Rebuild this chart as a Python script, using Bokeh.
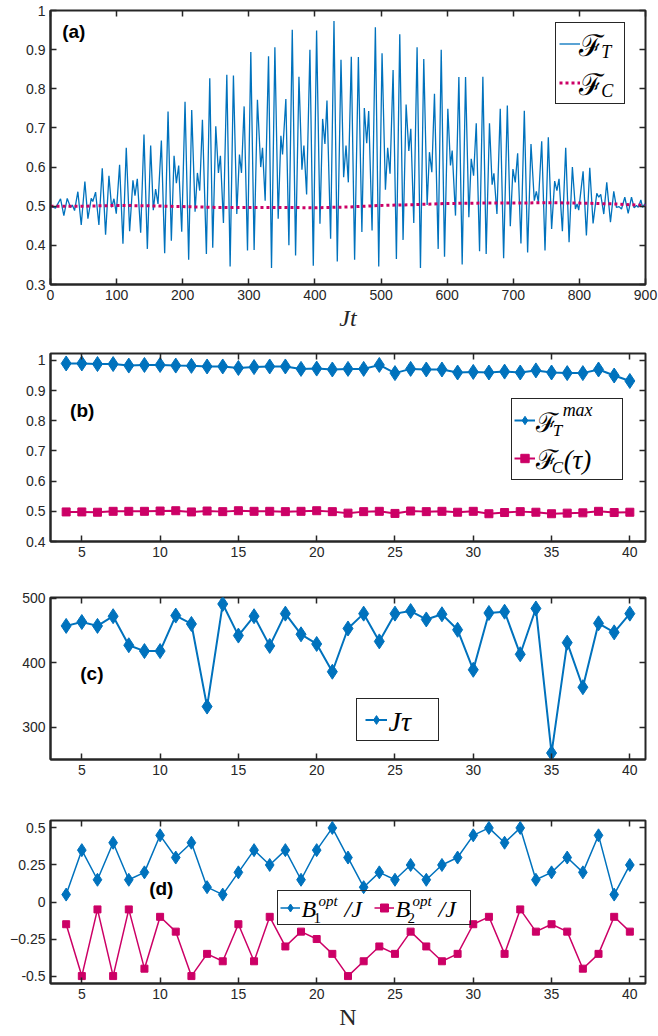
from bokeh.plotting import figure
from bokeh.models import (Range1d, FixedTicker, LinearAxis, Label, Legend, LegendItem,
                          CustomJSTickFormatter)
from bokeh.layouts import column
from bokeh.embed import file_html
from bokeh.resources import INLINE

BLUE = "#0072BD"
PINK = "#CC0066"
DARK = "#262626"

# ---------------- panel (a) data: extrema of F_T ----------------
ft_time = [
    0, 7.6, 15.2, 20.2, 25.3, 30.3, 33, 36.4, 41.4, 46.5,
    52, 56.6, 61.6, 64, 68.2, 73.2, 78.3, 83.3, 88.4, 92.4,
    96, 99.5, 104.5, 109.6, 114.6, 119.7, 124.7, 127.8, 131.3, 136.4,
    141.4, 146.5, 151.5, 155.5, 159, 162.6, 167.7, 172.7, 177.8, 182.8,
    186.9, 190.4, 193.9, 198.5, 203.5, 209, 213.6, 218.7, 222.2, 225.7,
    229.8, 235.8, 240.9, 245.4, 250, 254, 257, 261.6, 266.7, 271.7,
    276.7, 281.8, 285.8, 288.9, 292.9, 298, 303, 308, 313, 318,
    320.7, 324.7, 329.8, 334.3, 339.4, 344.4, 348.5, 351, 356, 360.6,
    365.7, 370.7, 375.8, 380.3, 383.3, 387.4, 392.4, 397.5, 402.5, 407.6,
    411.6, 415.1, 418.2, 423.7, 428.8, 433.8, 439.4, 443.4, 447, 450.5,
    455, 460, 465.7, 471, 474.7, 478.3, 481.3, 486.4, 491.4, 496.5,
    501.5, 506.6, 510, 513.6, 518.2, 523.2, 528.3, 533.3, 537.9, 542,
    545, 549.5, 554.5, 559.6, 564.6, 569.7, 573.2, 576.8, 580.8, 586.4,
    591, 596, 601, 605, 607.6, 612.6, 617.7, 622.7, 627.8, 632.8,
    636.4, 640, 644, 649, 654, 659, 664, 668, 670.7, 675.3,
    680.3, 685.4, 691, 695.5, 699.5, 703, 706.6, 711.6, 716.7, 721.7,
    726.8, 731.8, 734.9, 738, 743, 748, 753, 758, 762.6, 766,
    769.2, 774.3, 779.3, 784.4, 789.4, 794, 796.5, 799, 805.6, 810.6,
    815.7, 820.7, 826.3, 829.3, 832.3, 836.9, 841.4, 847, 852, 856,
    860, 863.7, 868.7, 873.8, 878.8, 882.8, 886.4, 889, 893, 895.5,
    899, 900,
]
ft_value = [
    0.50, 0.495, 0.519, 0.476, 0.520, 0.497, 0.503, 0.489, 0.537, 0.452,
    0.563, 0.468, 0.520, 0.512, 0.536, 0.452, 0.597, 0.427, 0.578, 0.497,
    0.519, 0.481, 0.606, 0.404, 0.649, 0.436, 0.566, 0.527, 0.570, 0.432,
    0.683, 0.391, 0.655, 0.490, 0.544, 0.506, 0.668, 0.380, 0.742, 0.412,
    0.629, 0.559, 0.604, 0.435, 0.767, 0.363, 0.746, 0.486, 0.585, 0.540,
    0.721, 0.378, 0.827, 0.394, 0.704, 0.585, 0.629, 0.457, 0.836, 0.346,
    0.834, 0.480, 0.632, 0.585, 0.755, 0.387, 0.894, 0.388, 0.772, 0.600,
    0.649, 0.514, 0.883, 0.342, 0.906, 0.468, 0.680, 0.632, 0.774, 0.400,
    0.951, 0.374, 0.831, 0.593, 0.655, 0.530, 0.900, 0.348, 0.949, 0.455,
    0.723, 0.659, 0.770, 0.417, 0.973, 0.359, 0.874, 0.574, 0.655, 0.561,
    0.882, 0.363, 0.881, 0.434, 0.751, 0.661, 0.743, 0.438, 0.957, 0.346,
    0.891, 0.542, 0.649, 0.583, 0.848, 0.365, 0.939, 0.414, 0.760, 0.641,
    0.698, 0.457, 0.906, 0.342, 0.876, 0.503, 0.638, 0.587, 0.787, 0.391,
    0.900, 0.371, 0.749, 0.604, 0.642, 0.476, 0.830, 0.351, 0.830, 0.472,
    0.621, 0.578, 0.712, 0.385, 0.831, 0.378, 0.712, 0.555, 0.584, 0.480,
    0.749, 0.367, 0.757, 0.449, 0.595, 0.561, 0.635, 0.405, 0.744, 0.382,
    0.659, 0.514, 0.538, 0.510, 0.666, 0.387, 0.676, 0.442, 0.564, 0.540,
    0.570, 0.436, 0.649, 0.408, 0.600, 0.493, 0.506, 0.490, 0.589, 0.425,
    0.598, 0.456, 0.533, 0.523, 0.530, 0.480, 0.561, 0.459, 0.538, 0.497,
    0.499, 0.493, 0.523, 0.482, 0.523, 0.496, 0.502, 0.497, 0.516, 0.497,
    0.506, 0.500,
]
fc_time = [0, 50, 100, 150, 200, 250, 300, 350, 400, 450, 500, 550, 600, 650, 700, 750, 800, 850, 900]
fc_value = [0.500, 0.500, 0.502, 0.501, 0.499, 0.497, 0.497, 0.497, 0.496, 0.498,
            0.502, 0.504, 0.507, 0.508, 0.508, 0.509, 0.508, 0.506, 0.502]

# ---------------- panels (b)-(d) data ----------------
N = list(range(4, 41))
ft_max = [0.990, 0.990, 0.988, 0.988, 0.983, 0.985, 0.985, 0.983, 0.982, 0.980,
          0.980, 0.975, 0.978, 0.980, 0.980, 0.972, 0.973, 0.970, 0.972, 0.972,
          0.985, 0.958, 0.972, 0.970, 0.970, 0.960, 0.962, 0.960, 0.963, 0.960,
          0.967, 0.960, 0.958, 0.958, 0.970, 0.950, 0.932]
fc_tau = [0.498, 0.498, 0.497, 0.500, 0.500, 0.500, 0.501, 0.502, 0.498, 0.501,
          0.499, 0.502, 0.500, 0.500, 0.499, 0.500, 0.502, 0.499, 0.494, 0.499,
          0.500, 0.493, 0.501, 0.499, 0.500, 0.497, 0.500, 0.492, 0.496, 0.499,
          0.497, 0.492, 0.494, 0.495, 0.500, 0.496, 0.497]
jt_tau = [457, 463, 457, 472, 427, 418, 418, 473, 460, 332,
          491, 442, 472, 426, 476, 444, 429, 386, 453, 476,
          433, 476, 480, 467, 475, 451, 389, 477, 479, 413,
          484, 260, 431, 362, 461, 447, 476]
b1_opt = [0.05, 0.35, 0.15, 0.40, 0.15, 0.20, 0.45, 0.30, 0.40, 0.10,
          0.05, 0.20, 0.35, 0.25, 0.35, 0.15, 0.35, 0.50, 0.30, 0.10,
          0.20, 0.15, 0.25, 0.15, 0.25, 0.30, 0.45, 0.50, 0.40, 0.50,
          0.15, 0.20, 0.30, 0.20, 0.45, 0.05, 0.25]
b2_opt = [-0.15, -0.50, -0.05, -0.50, -0.05, -0.45, -0.10, -0.20, -0.50, -0.35,
          -0.40, -0.15, -0.40, -0.10, -0.30, -0.20, -0.25, -0.35, -0.50, -0.40,
          -0.30, -0.35, -0.20, -0.30, -0.40, -0.35, -0.15, -0.10, -0.35, -0.05,
          -0.20, -0.15, -0.20, -0.45, -0.35, -0.10, -0.20]

xticks_a = [0, 100, 200, 300, 400, 500, 600, 700, 800, 900]
yticks_a = [0.3, 0.4, 0.5, 0.6, 0.7, 0.8, 0.9, 1.0]
xticks_n = [5, 10, 15, 20, 25, 30, 35, 40]
yticks_b = [0.4, 0.5, 0.6, 0.7, 0.8, 0.9, 1.0]
yticks_c = [300, 400, 500]
yticks_d = [-0.5, -0.25, 0, 0.25, 0.5]

FW = 595
SERIF = "Liberation Serif"
SCRIPT = "DejaVu Serif"


def style_axis(ax, ticks, hidden=False):
    ax.ticker = FixedTicker(ticks=ticks)
    ax.major_tick_in = 6
    ax.major_tick_out = 0
    ax.minor_tick_line_color = None
    ax.major_tick_line_color = DARK
    ax.major_tick_line_width = 1.5
    if hidden:
        ax.axis_line_color = None
        ax.formatter = CustomJSTickFormatter(code="return ''")
        ax.major_label_standoff = 0
    else:
        ax.axis_line_color = DARK
        ax.axis_line_width = 2
        ax.major_label_text_font = "Liberation Sans"
        ax.major_label_text_font_size = "14px"
        ax.major_label_text_color = DARK
        ax.major_label_standoff = 5


def make_fig(xr, yr, fh, top, bottom, xticks, yticks, yover=None):
    p = figure(frame_width=FW, frame_height=fh,
               x_range=Range1d(*xr), y_range=Range1d(*yr),
               min_border_left=50, min_border_right=13,
               min_border_top=top, min_border_bottom=bottom,
               toolbar_location=None, output_backend="svg",
               background_fill_color="white", border_fill_color="white")
    p.xgrid.visible = False
    p.ygrid.visible = False
    p.outline_line_color = DARK
    p.outline_line_width = 2
    p.outline_line_alpha = 1
    bx = p.below[0]
    ly = p.left[0]
    style_axis(bx, xticks)
    style_axis(ly, yticks)
    if yover:
        ly.major_label_overrides = yover
    ra = LinearAxis()
    style_axis(ra, yticks, hidden=True)
    p.add_layout(ra, "right")
    ta = LinearAxis()
    style_axis(ta, xticks, hidden=True)
    p.add_layout(ta, "above")
    return p, bx


def to_data(xr, yr, fh, px, py_from_bottom):
    x = xr[0] + px / FW * (xr[1] - xr[0])
    y = yr[0] + py_from_bottom / fh * (yr[1] - yr[0])
    return x, y


def add_legend(p, xr, yr, fh, box, items, texts, horizontal=False,
               pad=3, glyph_w=22, spacing=0):
    bx0, bx1, by0, by1 = box
    vx = (bx0 - xr[0]) / (xr[1] - xr[0]) * FW
    vy = (by0 - yr[0]) / (yr[1] - yr[0]) * fh
    bw = (bx1 - bx0) / (xr[1] - xr[0]) * FW
    bh = (by1 - by0) / (yr[1] - yr[0]) * fh
    n = len(items)
    if horizontal:
        gh = bh - 2 * pad
        lw = (bw - 2 * pad) / n - glyph_w
    else:
        gh = (bh - 2 * pad - (n - 1) * spacing) / n
        lw = bw - 2 * pad - glyph_w
    leg = Legend(items=[LegendItem(label=" ", renderers=r) for r in items],
                 location=(vx, vy), orientation="horizontal" if horizontal else "vertical",
                 padding=pad, spacing=spacing, margin=0, glyph_width=glyph_w,
                 glyph_height=int(round(gh)), label_width=int(round(lw)), label_standoff=0,
                 label_height=10, label_text_font_size="12px",
                 border_line_color=DARK, border_line_width=1, border_line_alpha=1,
                 background_fill_color="white", background_fill_alpha=0)
    p.add_layout(leg)
    for i, pieces in enumerate(texts):
        if horizontal:
            base_x = pad + i * (glyph_w + lw) + glyph_w
            cy = pad + gh / 2
        else:
            base_x = pad + glyph_w
            cy = pad + i * (gh + spacing) + gh / 2
        for (dx, dy, txt, size, font, fstyle) in pieces:
            x, y = to_data(xr, yr, fh, vx + base_x + dx, vy + bh - (cy + dy))
            p.add_layout(Label(x=x, y=y, text=txt, text_font=font, text_font_size=size,
                               text_font_style=fstyle, text_baseline="middle",
                               text_align="left", text_color="black", level="overlay"))


def panel_label(p, x, y, txt):
    p.add_layout(Label(x=x, y=y, text=txt, text_font="Liberation Sans", text_font_size="19px",
                       text_font_style="bold", text_baseline="middle", text_align="left",
                       text_color="black", level="overlay"))


def axis_title(ax, txt, fstyle):
    ax.axis_label = txt
    ax.axis_label_text_font = SERIF
    ax.axis_label_text_font_style = fstyle
    ax.axis_label_text_font_size = "24px"
    ax.axis_label_text_color = DARK
    ax.axis_label_standoff = 2


# ---------------- (a) ----------------
xr_a, yr_a, fh_a = (0, 900), (0.3, 1.0), 274
pa, ax_a = make_fig(xr_a, yr_a, fh_a, 10, 56, xticks_a, yticks_a, {1: "1"})
ra_ft = pa.line(ft_time, ft_value, line_color=BLUE, line_width=1.3)
ra_fc = pa.line(fc_time, fc_value, line_color=PINK, line_width=3, line_dash="3 3")
axis_title(ax_a, "Jt", "italic")
panel_label(pa, 17.6, 0.947, "(a)")
add_legend(pa, xr_a, yr_a, fh_a, (763.5, 866.8, 0.760, 0.963),
           [[ra_ft], [ra_fc]],
           [[(0, 0, "ℱ", "30px", SCRIPT, "normal"), (22, 7, "T", "18px", SERIF, "italic")],
            [(0, 0, "ℱ", "30px", SCRIPT, "normal"), (22, 7, "C", "18px", SERIF, "italic")]],
           pad=3, glyph_w=21, spacing=4)

# ---------------- (b) ----------------
xr_n = (3, 41)
yr_b, fh_b = (0.4, 1.023), 188
pb, ax_b = make_fig(xr_n, yr_b, fh_b, 13, 34, xticks_n, yticks_b, {1: "1"})
rb1 = pb.line(N, ft_max, line_color=BLUE, line_width=2)
rb1m = pb.scatter(N, ft_max, marker="diamond", size=15, fill_color=BLUE, line_color=BLUE)
rb2 = pb.line(N, fc_tau, line_color=PINK, line_width=2)
rb2m = pb.scatter(N, fc_tau, marker="square", size=8, fill_color=PINK, line_color=PINK)
panel_label(pb, 4.25, 0.835, "(b)")
add_legend(pb, xr_n, yr_b, fh_b, (32.45, 39.5, 0.602, 0.864),
           [[rb1, rb1m], [rb2, rb2m]],
           [[(1, 0, "ℱ", "27px", SCRIPT, "normal"), (18, 8, "T", "17px", SERIF, "italic"),
             (28, -12, "max", "18px", SERIF, "italic")],
            [(1, 0, "ℱ", "27px", SCRIPT, "normal"), (17, 8, "C", "17px", SERIF, "italic"),
             (29, 0, "(τ)", "27px", SERIF, "italic")]],
           pad=2, glyph_w=21)

# ---------------- (c) ----------------
yr_c, fh_c = (250, 501), 162
pc, ax_c = make_fig(xr_n, yr_c, fh_c, 22, 46, xticks_n, yticks_c)
rc = pc.line(N, jt_tau, line_color=BLUE, line_width=2)
rcm = pc.scatter(N, jt_tau, marker="diamond", size=15, fill_color=BLUE, line_color=BLUE)
panel_label(pc, 4.9, 383, "(c)")
add_legend(pc, xr_n, yr_c, fh_c, (22.54, 27.72, 277.9, 341.4),
           [[rc, rcm]],
           [[(2, 0, "Jτ", "28px", SERIF, "italic")]], pad=8, glyph_w=22)

# ---------------- (d) ----------------
yr_d, fh_d = (-0.55, 0.55), 163
pd_, ax_d = make_fig(xr_n, yr_d, fh_d, 15, 53, xticks_n, yticks_d,
                     {-0.5: "-0.5", 0: "0", 0.5: "0.5"})
rd1 = pd_.line(N, b1_opt, line_color=BLUE, line_width=1.5)
rd1m = pd_.scatter(N, b1_opt, marker="diamond", size=13, fill_color=BLUE, line_color=BLUE)
rd2 = pd_.line(N, b2_opt, line_color=PINK, line_width=1.5)
rd2m = pd_.scatter(N, b2_opt, marker="square", size=7, fill_color=PINK, line_color=PINK)
axis_title(ax_d, "N", "normal")
panel_label(pd_, 9.3, 0.09, "(d)")


def bpieces(k):
    return [(2, 0, "B", "24px", SERIF, "italic"), (14, 9, k, "15px", SERIF, "normal"),
            (19, -8, "opt", "15px", SERIF, "italic"), (45, 0, "/J", "24px", SERIF, "italic")]


add_legend(pd_, xr_n, yr_d, fh_d, (17.5, 29.76, -0.159, 0.064),
           [[rd1, rd1m], [rd2, rd2m]],
           [bpieces("1"), bpieces("2")], horizontal=True, pad=2, glyph_w=20)

layout = column(pa, pb, pc, pd_)
open("out.html", "w").write(file_html(layout, INLINE))
